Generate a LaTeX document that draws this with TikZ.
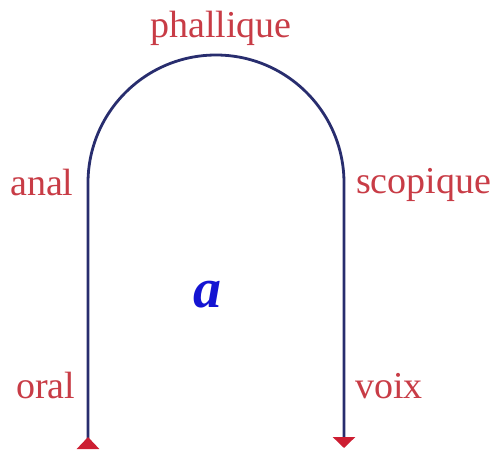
\documentclass[tikz,border=0pt]{standalone}
\usepackage{fontspec}
\setmainfont{Liberation Serif}
\usetikzlibrary{arrows.meta}
\definecolor{lblred}{RGB}{200,60,70}
\definecolor{linecol}{RGB}{40,45,110}
\definecolor{tipred}{RGB}{205,30,50}
\definecolor{ablue}{RGB}{20,20,210}
\tikzset{
  lbl/.style={font=\fontsize{38}{44}\selectfont, text=lblred, inner sep=0pt},
  pathline/.style={draw=linecol, line width=2.8pt}
}
\begin{document}
\begin{tikzpicture}[x=1pt,y=-1pt]
\useasboundingbox (0,0) rectangle (497,450);
\coordinate (start) at (88,449);
\coordinate (lt) at (88,183);
\coordinate (rt) at (344,183);
\coordinate (stop) at (344,448);
\draw[pathline, {Triangle[reversed,width=22pt,length=12pt,color=tipred]}-{Triangle[width=22pt,length=11pt,color=tipred]}]
  (start) -- (lt) arc[start angle=180, end angle=360, radius=128] -- (stop);
\node[lbl, anchor=base] (phal) at (221,37) {phallique};
\node[lbl, anchor=base west] (anal) at (10,195) {anal};
\node[lbl, anchor=base west] (scop) at (356,193) {scopique};
\node[lbl, anchor=base west] (oral) at (16,398) {oral};
\node[lbl, anchor=base west] (voix) at (355,398) {voix};
\node[font=\fontsize{56}{60}\selectfont\bfseries\itshape, text=ablue, inner sep=0pt, anchor=base] (a) at (207,307) {a};
\end{tikzpicture}
\end{document}
